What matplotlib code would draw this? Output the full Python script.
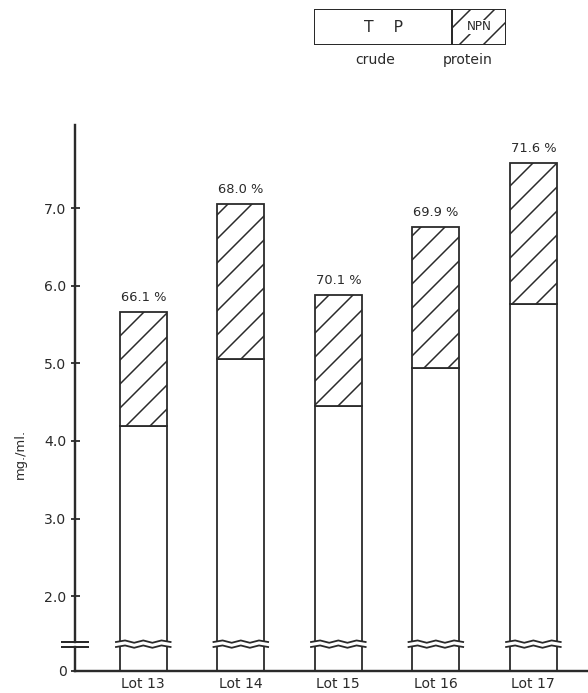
import numpy as np
import matplotlib.pyplot as plt
from matplotlib.patches import Rectangle

# values (mg./ml.)
lots = ['Lot 13', 'Lot 14', 'Lot 15', 'Lot 16', 'Lot 17']
true_protein = [4.19, 5.05, 4.45, 4.94, 5.76]
crude_protein = [5.66, 7.05, 5.88, 6.76, 7.58]
pct_labels = ['66.1 %', '68.0 %', '70.1 %', '69.9 %', '71.6 %']
ytick_vals = [2.0, 3.0, 4.0, 5.0, 6.0, 7.0]

plt.rcParams['font.family'] = ['DejaVu Sans']
plt.rcParams['hatch.linewidth'] = 0.75
plt.rcParams['hatch.color'] = '#222222'

DPI = 144
fig = plt.figure(figsize=(588 / DPI, 693 / DPI), dpi=DPI)

# broken axis: upper part 1.41 .. 8.07, lower stub 0 .. 0.31
ax = fig.add_axes([75 / 588, 1 - 642 / 693, 513 / 588, 517 / 693])
axb = fig.add_axes([75 / 588, 1 - 671 / 693, 513 / 588, 24 / 693])

x = np.arange(len(lots))
w = 0.48
npn = np.array(crude_protein) - np.array(true_protein)
ink = '#2a2a2a'

for a in (ax, axb):
    a.bar(x, true_protein, w, color='white', edgecolor=ink, linewidth=0.9)
    a.bar(x, npn, w, bottom=true_protein, color='white', edgecolor=ink,
          linewidth=0.9, hatch='//')
    a.set_xlim(-0.70, 4.56)
    for s in ('top', 'right'):
        a.spines[s].set_visible(False)
    a.spines['left'].set_linewidth(1.2)
    a.spines['left'].set_color(ink)
    a.tick_params(axis='y', direction='inout', length=4.5, width=0.9,
                  labelsize=7, pad=2, colors=ink)

ax.set_ylim(1.41, 8.07)
ax.spines['bottom'].set_visible(False)
ax.set_xticks([])
ax.set_yticks(ytick_vals)
ax.set_yticklabels([f'{v:.1f}' for v in ytick_vals])

axb.set_ylim(0, 0.31)
axb.set_yticks([0])
axb.set_yticklabels(['0'])
axb.spines['bottom'].set_linewidth(1.2)
axb.spines['bottom'].set_color(ink)
axb.set_xticks(x)
axb.set_xticklabels(lots, fontsize=7, color=ink)
axb.tick_params(axis='x', length=0, pad=3)

# percentage labels above bars
for xi, top, lab in zip(x, crude_protein, pct_labels):
    ax.text(xi, top + 0.1, lab, ha='center', va='bottom', fontsize=6.5,
            color=ink)

# wavy break marks across each bar and on the axis
zig = np.array([0, 0.02, -0.01, 0.02, -0.01, 0.02, 0])
for xi in x:
    xs = np.linspace(xi - w / 2 - 0.04, xi + w / 2 + 0.04, len(zig))
    ax.plot(xs, 1.41 + zig, color=ink, lw=0.9, clip_on=False)
    axb.plot(xs, 0.31 + zig, color=ink, lw=0.9, clip_on=False)
for a, yv in ((ax, 1.41), (axb, 0.31)):
    a.plot([-0.83, -0.57], [yv, yv], color=ink, lw=1.0, clip_on=False)

fig.text(0.035, 0.345, 'mg./ml.', rotation=90, ha='center', va='center',
         fontsize=6.5, color=ink)

# legend key drawn as a small box
lg = fig.add_axes([314 / 588, 1 - 45 / 693, 192 / 588, 36 / 693])
lg.set_xlim(0, 192)
lg.set_ylim(0, 36)
lg.axis('off')
lg.add_patch(Rectangle((0, 0), 138, 36, facecolor='white', edgecolor=ink,
                       lw=1.0))
lg.add_patch(Rectangle((138, 0), 54, 36, facecolor='white', edgecolor=ink,
                       lw=1.0, hatch='//'))
lg.text(69, 18, 'T    P', ha='center', va='center', fontsize=7.8, color=ink)
lg.text(165, 18, 'NPN', ha='center', va='center', fontsize=6, color=ink,
        bbox=dict(facecolor='white', edgecolor='none', pad=0.3))
fig.text(375 / 588, 1 - 60 / 693, 'crude', ha='center', va='center',
         fontsize=7, color=ink)
fig.text(468 / 588, 1 - 60 / 693, 'protein', ha='center', va='center',
         fontsize=7, color=ink)

fig.savefig('out.png', dpi=DPI)
